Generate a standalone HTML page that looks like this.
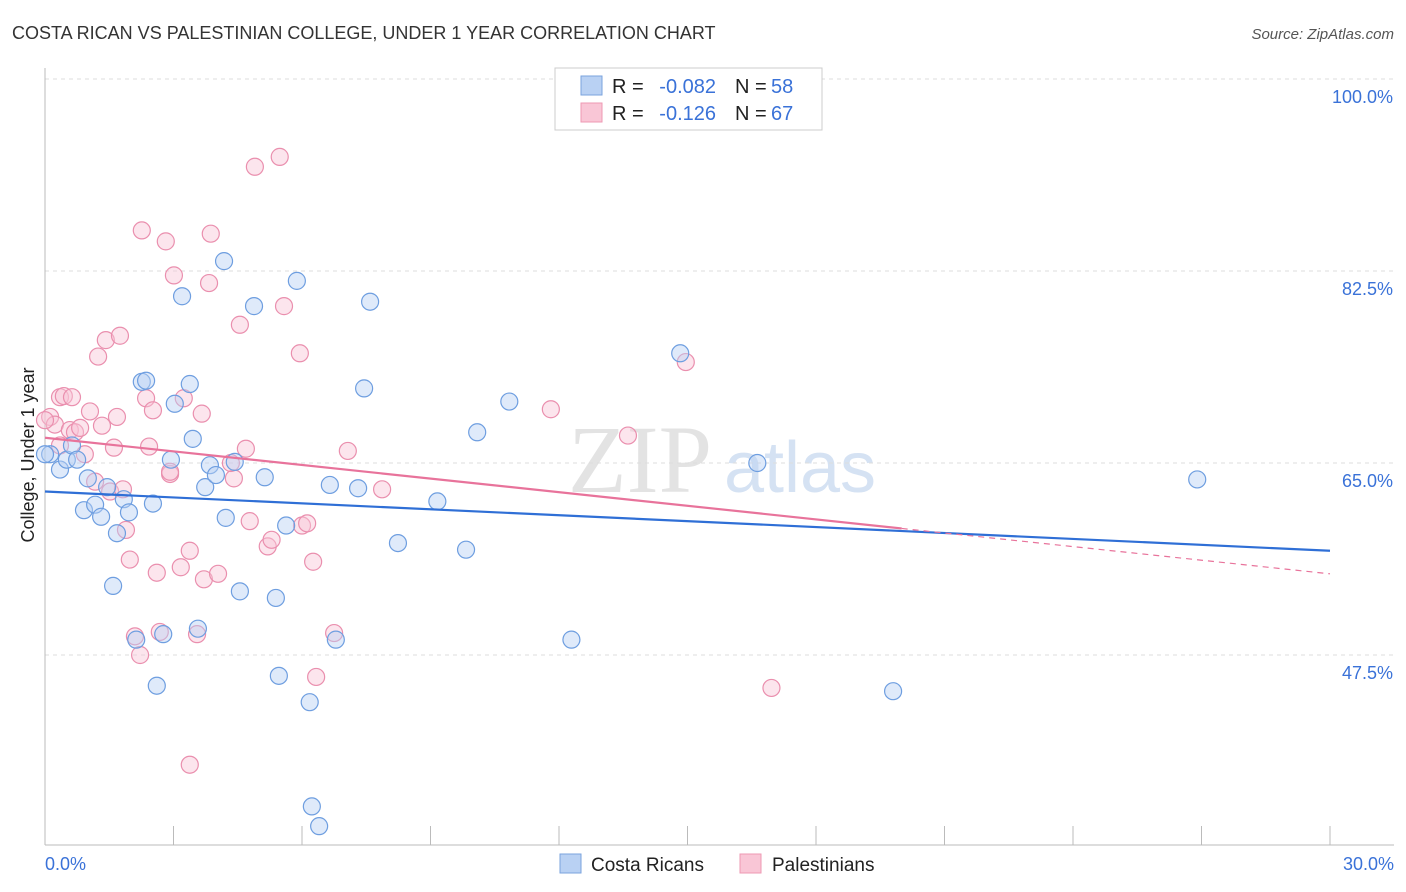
<!DOCTYPE html>
<html><head><meta charset="utf-8">
<style>
body{margin:0;background:#fff;font-family:"Liberation Sans",sans-serif;}
#wrap{position:relative;width:1406px;height:892px;overflow:hidden;}
</style></head>
<body><div id="wrap">
<svg id="svg" width="1406" height="892" xmlns="http://www.w3.org/2000/svg">
<text x="12" y="39" font-size="18" fill="#333">COSTA RICAN VS PALESTINIAN COLLEGE, UNDER 1 YEAR CORRELATION CHART</text>
<text x="1394" y="39" font-size="15" fill="#555" font-style="italic" text-anchor="end">Source: ZipAtlas.com</text>
<text x="640" y="492" font-size="96" fill="#d8d8d8" font-family="Liberation Serif,serif" text-anchor="middle" opacity="0.7">ZIP</text>
<text x="800" y="492" font-size="72" fill="#c4d6ee" text-anchor="middle" opacity="0.7">atlas</text>
<text transform="translate(34,455) rotate(-90)" font-size="18" fill="#222" text-anchor="middle">College, Under 1 year</text>
<g id="grid"></g><g id="marks"></g>
<g>
<rect x="555" y="68" width="267" height="62" fill="#fff" stroke="#ccc"/>
<rect x="581" y="76" width="21" height="19" fill="#b9d1f3" stroke="#7aa3de"/>
<rect x="581" y="103" width="21" height="19" fill="#f9c6d6" stroke="#ee98b3"/>
<text x="612" y="93" font-size="20" fill="#222">R =</text>
<text x="716" y="93" font-size="20" fill="#3a72d8" text-anchor="end">-0.082</text>
<text x="735" y="93" font-size="20" fill="#222">N =</text>
<text x="771" y="93" font-size="20" fill="#3a72d8">58</text>
<text x="612" y="120" font-size="20" fill="#222">R =</text>
<text x="716" y="120" font-size="20" fill="#3a72d8" text-anchor="end">-0.126</text>
<text x="735" y="120" font-size="20" fill="#222">N =</text>
<text x="771" y="120" font-size="20" fill="#3a72d8">67</text>
</g>
<g>
<rect x="560" y="854" width="21" height="19" fill="#b9d1f3" stroke="#7aa3de"/>
<text x="591" y="871" font-size="19" fill="#222">Costa Ricans</text>
<rect x="740" y="854" width="21" height="19" fill="#f9c6d6" stroke="#ee98b3"/>
<text x="772" y="871" font-size="19" fill="#222">Palestinians</text>
</g>
</svg></div>
<script>
const yTicks=[100,82.5,65,47.5];
const yTickLabels=["100.0%","82.5%","65.0%","47.5%"];
const xLabels=["0.0%","30.0%"];
const blueX=[0.12,0.35,0.51,0.63,0.75,0.91,1.0,1.17,1.31,1.45,1.59,1.68,1.84,1.96,2.13,2.26,2.36,2.52,2.61,2.76,2.94,3.03,3.2,3.38,3.45,3.57,3.74,3.85,3.99,4.18,4.22,4.43,4.55,4.88,5.13,5.39,5.46,5.63,5.88,6.18,6.23,6.4,6.65,6.79,7.31,7.45,7.59,8.24,9.16,9.83,10.09,10.84,12.29,14.83,16.63,19.8,26.9,0.0];
const blueY=[65.8,64.4,65.3,66.6,65.3,60.7,63.6,61.2,60.1,62.8,53.8,58.6,61.7,60.5,48.9,72.4,72.5,61.3,44.7,49.4,65.3,70.4,80.2,72.2,67.2,49.9,62.8,64.8,63.9,83.4,60.0,65.1,53.3,79.3,63.7,52.7,45.6,59.3,81.6,43.2,33.7,31.9,63.0,48.9,62.7,71.8,79.7,57.7,61.5,57.1,67.8,70.6,48.9,75.0,65.0,44.2,63.5,65.8];
const pinkX=[0.12,0.23,0.35,0.44,0.58,0.63,0.7,0.82,0.93,1.05,1.17,1.24,1.33,1.42,1.52,1.61,1.68,1.75,1.82,1.89,1.98,2.1,2.22,2.26,2.36,2.43,2.52,2.61,2.68,2.82,2.92,3.01,3.17,3.24,3.38,3.55,3.66,3.71,3.83,3.87,4.04,4.41,4.55,4.69,4.78,4.9,5.2,5.29,5.48,5.58,5.95,6.0,6.12,6.26,6.33,6.75,7.07,7.87,11.81,13.61,14.96,16.96,3.38,4.34,0.35,0.0,2.92];
const pinkY=[69.2,68.5,71.0,71.1,68.0,71.0,67.8,68.2,65.8,69.7,63.3,74.7,68.4,76.2,62.4,66.4,69.2,76.6,62.6,58.9,56.2,49.2,47.5,86.2,70.9,66.5,69.8,55.0,49.6,85.2,64.0,82.1,55.5,70.9,57.0,49.4,69.5,54.4,81.4,85.9,54.9,63.6,77.6,66.3,59.7,92.0,57.4,58.0,92.9,79.3,75.0,59.3,59.5,56.0,45.5,49.5,66.1,62.6,69.9,67.5,74.2,44.5,37.5,65.0,66.6,68.9,64.2];
const blueTrend=[62.4,57.0];
const pinkTrend=[67.3,54.9];
const pinkSolidEnd=20;
const sx=v=>45+v/30*1285;
const sy=v=>79+(100-v)*192/17.5;
const NS="http://www.w3.org/2000/svg";
const grid=document.getElementById('grid'),marks=document.getElementById('marks');
function mk(tag,attrs,parent){const e=document.createElementNS(NS,tag);for(const k in attrs)e.setAttribute(k,attrs[k]);parent.appendChild(e);return e;}
yTicks.forEach((t,i)=>{
 const l=mk('line',{x1:45,x2:1394,y1:sy(t),y2:sy(t),stroke:'#ddd','stroke-dasharray':'4,4'},grid);
 
 
 const tx=mk('text',{x:1393,y:sy(t)+24,'font-size':18,fill:'#3a72d8','text-anchor':'end'},grid);
 tx.textContent=yTickLabels[i];
 
 
});
const ax=mk('line',{x1:45,x2:45,y1:68,y2:845,stroke:'#bbb'},grid);


const bx=mk('line',{x1:45,x2:1394,y1:845,y2:845,stroke:'#bbb'},grid);


for(let i=0;i<=10;i++){const t=mk('line',{x1:sx(i*3),x2:sx(i*3),y1:826,y2:845,stroke:'#bbb'},grid);
 
 }
[[0,'start',45],[30,'end',1394]].forEach((d,i)=>{const t=mk('text',{x:d[2],y:870,'font-size':18,fill:'#3a72d8','text-anchor':d[1]},grid);t.textContent=xLabels[i];
 
 });
function pts(X,Y,fill,stroke,name){X.forEach((x,i)=>{const c=mk('circle',{cx:sx(x),cy:sy(Y[i]),r:8.5,fill:fill,'fill-opacity':0.45,stroke:stroke,'stroke-width':1.2},marks);
 
 });}
pts(pinkX,pinkY,'#f9c6d6','#ea8fae','palestinian-point');
pts(blueX,blueY,'#b9d1f3','#6e9ee0','costa-rican-point');
const py=x=>pinkTrend[0]+(pinkTrend[1]-pinkTrend[0])*x/30;
const bt=mk('line',{x1:sx(0),y1:sy(blueTrend[0]),x2:sx(30),y2:sy(blueTrend[1]),stroke:'#2f6fd6','stroke-width':2.2},marks);


const pt=mk('line',{x1:sx(0),y1:sy(py(0)),x2:sx(pinkSolidEnd),y2:sy(py(pinkSolidEnd)),stroke:'#e8739b','stroke-width':2.2},marks);


const pd=mk('line',{x1:sx(pinkSolidEnd),y1:sy(py(pinkSolidEnd)),x2:sx(30),y2:sy(py(30)),stroke:'#e8739b','stroke-width':1.2,'stroke-dasharray':'6,5'},marks);


</script>
</body></html>
